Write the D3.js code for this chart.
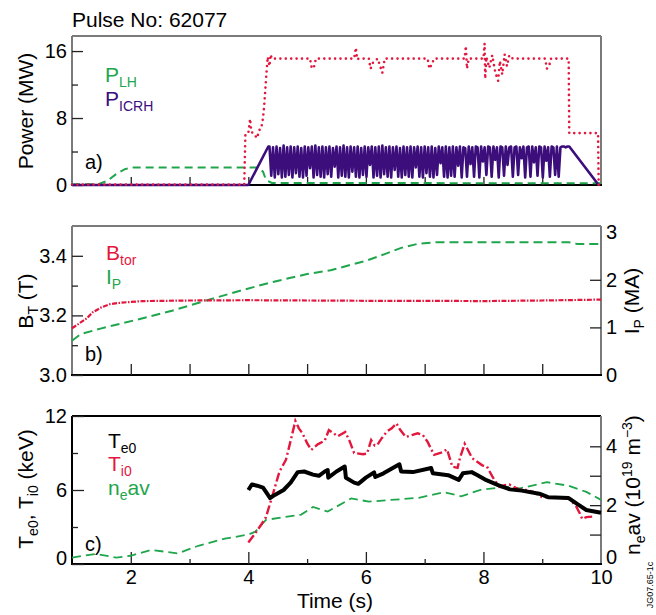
<!DOCTYPE html>
<html><head><meta charset="utf-8">
<script src="https://cdn.jsdelivr.net/npm/d3@7"></script>
<style>
body{margin:0;background:#fff;}
svg{display:block;font-family:"Liberation Sans",Arial,Helvetica,sans-serif;}
</style></head>
<body><svg id="c" width="656" height="615"></svg>
<script>
// ---------------- DATA ----------------
const pulseTitle = "Pulse No: 62077";
// Panel a: power (MW)
const pLH = [[1,0.1],[1.45,0.1],[1.6,0.5],[1.75,1.3],[1.9,1.9],[2.05,2.1],[4.15,2.1],[4.25,1.6],[4.3,0.6],[4.4,0.25],[10,0.2]];
const pTotal = [[1,0.05],[3.93,0.05],[3.95,6.0],[4.0,6.2],[4.03,7.9],[4.05,6.4],[4.1,6.0],[4.15,5.6],[4.18,6.5],[4.22,6.8],[4.25,8.0],[4.27,9.5],[4.29,11.5],[4.31,13.5],[4.33,15.3],[4.36,14.2],[4.38,15.6],[4.40,15.1],[5.05,15.1],[5.08,13.9],[5.12,14.2],[5.15,15.1],[5.8,15.1],[5.83,16.4],[5.85,15.0],[5.88,15.1],[6.05,15.1],[6.08,13.9],[6.12,14.6],[6.2,15.1],[6.28,13.4],[6.32,15.1],[7.05,15.1],[7.08,13.9],[7.12,14.4],[7.16,15.1],[7.68,15.1],[7.70,16.6],[7.72,13.9],[7.75,15.1],[8.0,15.1],[8.02,16.9],[8.03,12.7],[8.05,15.3],[8.1,14.0],[8.15,15.5],[8.2,13.5],[8.25,12.45],[8.28,14.8],[8.32,13.2],[8.36,15.6],[8.40,14.2],[8.44,15.5],[8.5,15.1],[9.05,15.1],[9.08,13.9],[9.12,14.3],[9.15,15.1],[9.45,15.1],[9.46,6.2],[9.95,6.2],[9.96,0]];
const pICRHrampUp = [[1,0],[4.0,0],[4.34,4.6]];
const pICRHrampDown = [[9.46,4.6],[9.96,0]];
const pICRHstart = 4.36, pICRHstep = 0.03; // sampling of the modulated ICRH trace
const pICRHvals = [
4.6,1.1,4.5,0.9,4.6,1.3,4.4,0.9,4.7,1.0,
4.5,1.2,4.6,0.9,4.5,1.4,4.6,1.0,4.4,0.9,
4.6,1.1,4.5,2.0,4.6,0.9,4.7,1.2,4.5,1.0,
4.6,0.9,4.5,1.3,4.6,1.0,4.4,2.2,4.6,0.9,
4.5,1.1,4.7,1.0,4.5,0.9,4.6,1.6,4.5,1.0,
4.6,0.9,4.4,1.2,4.6,1.0,4.5,2.4,4.6,0.9,
4.5,1.1,4.6,0.9,4.7,1.3,4.5,1.0,4.6,0.9,
4.5,1.8,4.6,1.0,4.4,0.9,4.6,1.2,4.5,1.0,
4.6,0.9,4.5,2.1,4.6,1.0,4.5,0.9,4.6,1.4,
4.5,1.0,4.6,0.9,4.4,1.2,4.6,2.6,4.5,1.0,
4.6,0.9,4.5,1.1,4.6,1.0,4.5,2.3,4.6,0.9,
4.5,4.4,1.0,4.6,2.5,4.5,1.0,4.6,4.5,0.9,
4.6,2.8,4.5,1.2,4.6,4.5,1.0,4.6,3.0,4.5,
0.9,4.6,4.5,1.1,4.6,2.4,4.5,4.6,1.0,4.5,
4.6,1.2,4.5,3.2,4.6,0.9,4.5,4.6,1.0,4.6,
2.7,4.5,1.1,4.6,4.5,0.9,4.6,2.9,4.5,1.0,
4.6,4.5,1.2,4.6,1.0,4.5,4.6,4.6,4.5,4.6];
// Panel b
const bTor = [[1.0,3.157],[1.1,3.17],[1.25,3.19],[1.35,3.21],[1.5,3.227],[1.65,3.238],[1.85,3.243],[2.2,3.248],[3.0,3.25],[4,3.251],[5,3.25],[6,3.249],[7,3.249],[8,3.248],[9,3.25],[10,3.253]];
const iP = [[1.0,0.72],[1.15,0.86],[1.5,0.98],[2.1,1.16],[2.7,1.35],[3.3,1.57],[3.8,1.75],[4.4,1.95],[5.0,2.12],[5.4,2.2],[5.7,2.3],[6.0,2.4],[6.3,2.53],[6.6,2.67],[6.9,2.76],[7.2,2.79],[9.45,2.79],[9.6,2.75],[10,2.75]];
// Panel c
const te0 = [[4.0,6.0],[4.06,6.45],[4.15,6.35],[4.25,6.2],[4.32,5.7],[4.37,5.35],[4.45,5.6],[4.6,6.0],[4.72,6.6],[4.84,7.45],[4.95,7.5],[5.1,7.25],[5.2,7.15],[5.3,7.5],[5.35,7.62],[5.36,7.0],[5.5,7.5],[5.64,7.9],[5.66,7.0],[5.8,6.6],[5.87,6.5],[6.0,7.0],[6.14,7.43],[6.16,7.05],[6.3,7.35],[6.57,8.08],[6.6,7.5],[6.8,7.45],[7.11,7.78],[7.14,7.35],[7.4,7.2],[7.58,6.82],[7.65,7.35],[7.8,7.45],[7.9,7.2],[8.05,6.8],[8.25,6.4],[8.45,6.05],[8.65,5.95],[8.95,5.7],[9.1,5.42],[9.45,5.35],[9.6,4.85],[9.75,4.38],[10.0,4.15]];
const ti0 = [[4.0,1.75],[4.12,2.5],[4.22,3.2],[4.3,3.8],[4.42,5.7],[4.53,7.5],[4.64,8.45],[4.72,10.0],[4.8,11.6],[4.86,11.0],[4.92,10.6],[5.0,9.8],[5.07,9.25],[5.18,9.7],[5.3,10.0],[5.37,10.85],[5.45,10.6],[5.52,10.35],[5.65,10.7],[5.72,10.0],[5.8,9.0],[5.95,8.9],[6.02,8.95],[6.09,10.05],[6.15,9.6],[6.2,9.7],[6.27,10.2],[6.36,10.75],[6.44,11.0],[6.52,11.4],[6.58,10.9],[6.68,10.3],[6.78,10.45],[6.88,10.6],[6.97,10.45],[7.05,9.9],[7.16,8.85],[7.3,9.05],[7.38,9.3],[7.47,7.9],[7.56,7.8],[7.6,8.6],[7.68,9.75],[7.81,8.57],[7.98,8.0],[8.06,7.9],[8.15,7.1],[8.27,6.25],[8.36,6.4],[8.44,6.45],[8.6,6.05],[8.72,6.0],[8.85,5.85],[9.0,5.4],[9.17,5.42],[9.3,5.35],[9.46,5.3],[9.58,4.65],[9.64,4.1],[9.68,3.65],[9.75,3.8],[9.85,3.84]];
const neAv = [[1.0,0.22],[1.4,0.34],[1.75,0.22],[2.0,0.28],[2.35,0.48],[2.8,0.36],[3.15,0.62],[3.6,0.86],[4.0,1.0],[4.12,1.1],[4.3,1.5],[4.9,1.68],[5.1,1.94],[5.35,1.78],[5.75,2.23],[6.05,2.12],[6.9,2.25],[7.33,2.44],[7.62,2.3],[7.95,2.52],[8.4,2.62],[8.62,2.57],[9.08,2.78],[9.45,2.66],[9.75,2.45],[10,2.18]];
// Ticks
const xTicksAll = [2,3,4,5,6,7,8,9];
const xLabels = [2,4,6,8,10];
const xMajorC = [2,4,6,8], xMinorC = [3,5,7,9];
const aMajor = [0,8,16], aMinor = [4,12];
const bMajor = [3.0,3.2,3.4], bMinor = [3.1,3.3];
const bRLabels = [0,1,2,3], bRTicks = [1,2];
const cMajor = [0,6,12], cMinor = [3,9];
const cRLabels = [0,2,4], cRTicks = [1,2,3,4];

// ---------------- DRAW ----------------
const RED = "#e3173e", GREEN = "#1fa54c", PURPLE = "#3c0e7c", GRAY = "#7a7a7a";
const svg = d3.select("#c");
const x = d3.scaleLinear().domain([1,10]).range([72,601]);
const ya = d3.scaleLinear().domain([0,17.8]).range([185,36]);
const ybL = d3.scaleLinear().domain([3.0,3.5]).range([375,226]);
const ybR = d3.scaleLinear().domain([0,3.13]).range([375,226]);
const ycL = d3.scaleLinear().domain([0,12]).range([564,416]);
const ycR = d3.scaleLinear().domain([0,5.03]).range([564,416]);

function frame(top, bottom, leftCol, topCol){
  const g = svg.append("g");
  g.append("line").attr("x1",72).attr("x2",72).attr("y1",top).attr("y2",bottom).attr("stroke",leftCol).attr("stroke-width",2);
  g.append("line").attr("x1",72).attr("x2",601).attr("y1",top).attr("y2",top).attr("stroke",topCol).attr("stroke-width",2);
  g.append("line").attr("x1",601).attr("x2",601).attr("y1",top).attr("y2",bottom).attr("stroke",GRAY).attr("stroke-width",2);
  g.append("line").attr("x1",71).attr("x2",602).attr("y1",bottom).attr("y2",bottom).attr("stroke","#000").attr("stroke-width",2);
}
function axisG(axis, tx, ty){
  const g = svg.append("g").attr("transform",`translate(${tx},${ty})`).call(axis);
  g.select(".domain").remove();
  g.selectAll("line").attr("stroke","#222").attr("stroke-width",1.3);
  g.selectAll("text").attr("font-size",20).attr("fill","#000").attr("font-family","Liberation Sans, Arial, sans-serif");
  return g;
}
const line = d3.line().x(d=>x(d[0]));

// Panel a
frame(36,185,GRAY,GRAY);
axisG(d3.axisLeft(ya).tickValues(aMinor).tickSize(-6).tickFormat(""),72,0);
axisG(d3.axisLeft(ya).tickValues(aMajor).tickSize(-11).tickPadding(5).tickFormat(d3.format("d")),72,0);
axisG(d3.axisBottom(x).tickValues(xTicksAll).tickSize(-8).tickFormat(""),0,185);

const icrh = pICRHrampUp.concat(pICRHvals.map((v,i)=>[pICRHstart+i*pICRHstep, v]), pICRHrampDown);
svg.append("path").attr("d", line.y(d=>ya(d[1]))(pLH)).attr("fill","none").attr("stroke",GREEN).attr("stroke-width",2).attr("stroke-dasharray","8,5");
svg.append("path").attr("d", line.y(d=>ya(d[1]))(icrh)).attr("fill","none").attr("stroke",PURPLE).attr("stroke-width",2.6).attr("stroke-linejoin","round");
svg.append("path").attr("d", line.y(d=>ya(d[1]))(pTotal)).attr("fill","none").attr("stroke",RED).attr("stroke-width",2.6).attr("stroke-dasharray","0,5.4").attr("stroke-linecap","round");

// Panel b
frame(226,375,GRAY,GRAY);
axisG(d3.axisLeft(ybL).tickValues(bMinor).tickSize(-6).tickFormat(""),72,0);
axisG(d3.axisLeft(ybL).tickValues(bMajor).tickSize(-11).tickPadding(5).tickFormat(d3.format(".1f")),72,0);
axisG(d3.axisRight(ybR).tickValues(bRTicks).tickSize(-11).tickFormat(""),601,0);
axisG(d3.axisRight(ybR).tickValues(bRLabels).tickSize(0).tickPadding(5).tickFormat(d3.format("d")),601,0);
axisG(d3.axisBottom(x).tickValues(xTicksAll).tickSize(-11).tickFormat(""),0,375);
svg.append("path").attr("d", line.y(d=>ybR(d[1]))(iP)).attr("fill","none").attr("stroke",GREEN).attr("stroke-width",2).attr("stroke-dasharray","9,5");
svg.append("path").attr("d", line.y(d=>ybL(d[1]))(bTor)).attr("fill","none").attr("stroke",RED).attr("stroke-width",2.2).attr("stroke-dasharray","5,1.5,1.5,1.5");

// Panel c
frame(416,564,"#000","#000");
axisG(d3.axisLeft(ycL).tickValues(cMinor).tickSize(-6).tickFormat(""),72,0);
axisG(d3.axisLeft(ycL).tickValues(cMajor).tickSize(-12).tickPadding(5).tickFormat(d3.format("d")),72,0)
  .selectAll(".tick text").filter(d=>d===0).attr("transform","translate(0,-6)");
axisG(d3.axisRight(ycR).tickValues(cRTicks).tickSize(-11).tickFormat(""),601,0);
axisG(d3.axisRight(ycR).tickValues(cRLabels).tickSize(0).tickPadding(5).tickFormat(d3.format("d")),601,0)
  .selectAll(".tick text").filter(d=>d===0).attr("transform","translate(0,-7)");
axisG(d3.axisBottom(x).tickValues(xMinorC).tickSize(-5).tickFormat(""),0,564);
axisG(d3.axisBottom(x).tickValues(xMajorC).tickSize(-12).tickFormat(""),0,564);
axisG(d3.axisBottom(x).tickValues(xLabels).tickSize(0).tickPadding(6).tickFormat(d3.format("d")),0,564);
svg.append("path").attr("d", line.y(d=>ycR(d[1]))(neAv)).attr("fill","none").attr("stroke",GREEN).attr("stroke-width",1.8).attr("stroke-dasharray","9,5");
svg.append("path").attr("d", line.y(d=>ycL(d[1]))(ti0)).attr("fill","none").attr("stroke",RED).attr("stroke-width",2.4).attr("stroke-dasharray","9,3,2,3");
svg.append("path").attr("d", line.y(d=>ycL(d[1]))(te0)).attr("fill","none").attr("stroke","#000").attr("stroke-width",4).attr("stroke-linejoin","round");

// ---------------- TEXT ----------------
function txt(x0,y0,parts,color,opts={}){
  const t = svg.append("text").attr("x",x0).attr("y",y0).attr("fill",color).attr("font-size",opts.size||21);
  if(opts.rotate) t.attr("transform",`rotate(-90,${x0},${y0})`).attr("text-anchor","middle");
  if(opts.anchor) t.attr("text-anchor",opts.anchor);
  parts.forEach(p=>{
    const s = t.append("tspan").text(p.t);
    if(p.sub) s.attr("font-size",14).attr("dy",p.dy!==undefined?p.dy:5);
    else if(p.sup) s.attr("font-size",14).attr("dy",p.dy!==undefined?p.dy:-8);
    else if(p.dy!==undefined) s.attr("font-size",opts.size||21).attr("dy",p.dy);
  });
  return t;
}
txt(72,27,[{t:pulseTitle}],"#000");
txt(33,111,[{t:"Power (MW)"}],"#000",{rotate:true});
txt(105,82,[{t:"P"},{t:"LH",sub:true}],GREEN);
txt(105,106,[{t:"P"},{t:"ICRH",sub:true}],PURPLE);
txt(85,169,[{t:"a)"}],"#000",{size:20});

txt(33,301,[{t:"B"},{t:"T",sub:true},{t:" (T)",dy:-5}],"#000",{rotate:true});
txt(106,260,[{t:"B"},{t:"tor",sub:true}],RED);
txt(106,284,[{t:"I"},{t:"P",sub:true}],GREEN);
txt(85,361,[{t:"b)"}],"#000",{size:20});
txt(639,301,[{t:"I"},{t:"P",sub:true},{t:" (MA)",dy:-5}],"#000",{rotate:true});

txt(33,489,[{t:"T"},{t:"e0",sub:true},{t:", T",dy:-5},{t:"i0",sub:true},{t:" (keV)",dy:-5}],"#000",{rotate:true});
txt(108,448,[{t:"T"},{t:"e0",sub:true}],"#000");
txt(108,471,[{t:"T"},{t:"i0",sub:true}],RED);
txt(108,495,[{t:"n"},{t:"e",sub:true},{t:"av",dy:-5}],GREEN);
txt(85,551,[{t:"c)"}],"#000",{size:20});
txt(640,485,[{t:"n"},{t:"e",sub:true},{t:"av (10",dy:-5},{t:"19",sup:true,dy:-8},{t:" m",dy:8},{t:"−3",sup:true,dy:-8},{t:")",dy:8}],"#000",{rotate:true});
txt(335,608,[{t:"Time (s)"}],"#000",{anchor:"middle"});
txt(653,585,[{t:"JG07.65-1c"}],"#000",{rotate:true,size:9});
</script></body></html>
